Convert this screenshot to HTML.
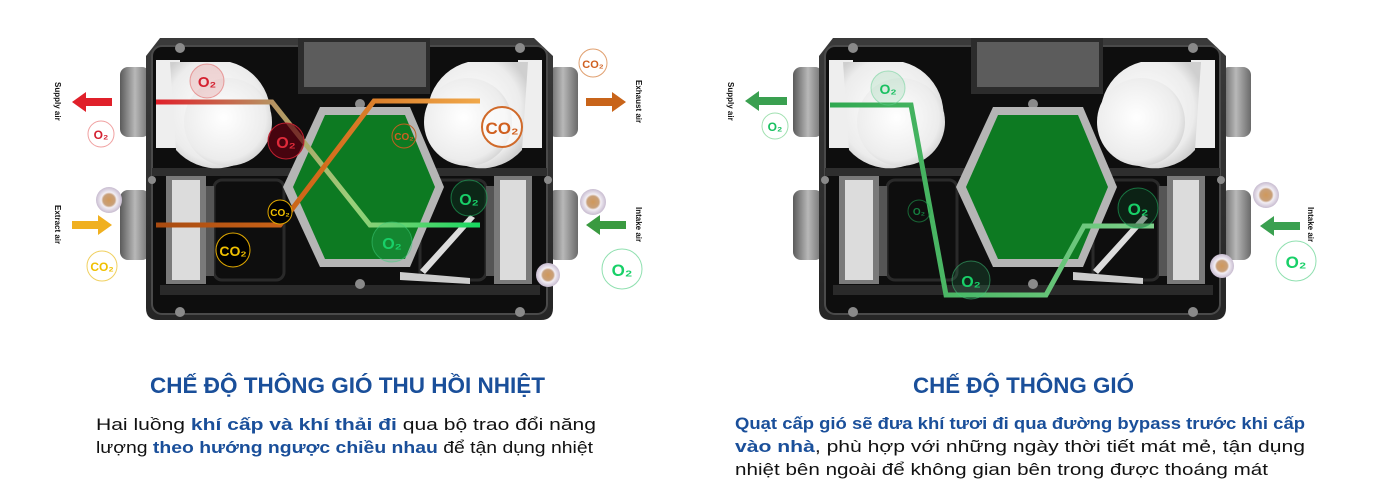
<!DOCTYPE html>
<html><head><meta charset="utf-8">
<style>
html,body{margin:0;padding:0;background:#fff;}
svg{display:block;}
text{font-family:"Liberation Sans",sans-serif;}
</style></head>
<body>
<svg width="1377" height="500" viewBox="0 0 1377 500" xmlns="http://www.w3.org/2000/svg">
<defs>
 <linearGradient id="body" x1="0" y1="0" x2="0" y2="1">
  <stop offset="0" stop-color="#3a3a3a"/><stop offset="1" stop-color="#262626"/>
 </linearGradient>
 <linearGradient id="port" x1="0" y1="0" x2="1" y2="0">
  <stop offset="0" stop-color="#5a5a5a"/><stop offset=".5" stop-color="#b8b8b8"/><stop offset="1" stop-color="#6a6a6a"/>
 </linearGradient>
 <radialGradient id="fan" cx=".45" cy=".45" r=".6">
  <stop offset="0" stop-color="#ffffff"/><stop offset=".8" stop-color="#ececec"/><stop offset="1" stop-color="#cfcfcf"/>
 </radialGradient>
 <linearGradient id="gSupply" gradientUnits="userSpaceOnUse" x1="156" y1="0" x2="480" y2="0">
  <stop offset="0" stop-color="#e0202a"/><stop offset=".35" stop-color="#b89060"/><stop offset=".6" stop-color="#9ccf7a"/><stop offset="1" stop-color="#16d860"/>
 </linearGradient>
 <linearGradient id="gExh" gradientUnits="userSpaceOnUse" x1="156" y1="0" x2="480" y2="0">
  <stop offset="0" stop-color="#a84a10"/><stop offset=".5" stop-color="#d26a1a"/><stop offset="1" stop-color="#f0a84a"/>
 </linearGradient>
 <linearGradient id="gGreen" gradientUnits="userSpaceOnUse" x1="830" y1="0" x2="1154" y2="0">
  <stop offset="0" stop-color="#2fa850"/><stop offset="1" stop-color="#7ed08a"/>
 </linearGradient>
 <radialGradient id="bub" cx=".5" cy=".5" r=".5">
  <stop offset=".55" stop-color="#fff" stop-opacity=".9"/><stop offset="1" stop-color="#fff" stop-opacity=".3"/>
 </radialGradient>
 <radialGradient id="dust" cx=".5" cy=".5" r=".5">
  <stop offset="0" stop-color="#d0985a"/><stop offset=".45" stop-color="#c8a07a"/><stop offset=".6" stop-color="#f2eef4"/><stop offset="1" stop-color="#c8bcd0"/>
 </radialGradient>

 <g id="dev">
  <rect x="120" y="67" width="30" height="70" rx="8" fill="url(#port)"/>
  <rect x="120" y="190" width="30" height="70" rx="8" fill="url(#port)"/>
  <rect x="548" y="67" width="30" height="70" rx="8" fill="url(#port)"/>
  <rect x="548" y="190" width="30" height="70" rx="8" fill="url(#port)"/>
  <path d="M160 38 L534 38 L553 56 L553 308 Q553 320 541 320 L158 320 Q146 320 146 308 L146 56 Z" fill="url(#body)"/>
  <rect x="152" y="46" width="395" height="268" rx="10" fill="#0e0e0e" stroke="#4a4a4a" stroke-width="2"/>
  <rect x="152" y="168" width="140" height="8" fill="#2e2e2e"/>
  <rect x="410" y="168" width="137" height="8" fill="#2e2e2e"/>
  <rect x="160" y="285" width="380" height="10" fill="#2a2a2a"/>
  <rect x="214" y="180" width="70" height="100" rx="8" fill="none" stroke="#2a2a2a" stroke-width="3"/>
  <rect x="420" y="180" width="66" height="100" rx="8" fill="none" stroke="#2a2a2a" stroke-width="3"/>
  <rect x="298" y="38" width="132" height="56" fill="#2c2c2c"/>
  <rect x="304" y="42" width="122" height="45" fill="#5c5c5c"/>
  <rect x="156" y="60" width="24" height="88" fill="#eee"/>
  <path d="M170 62 L230 62 A54 54 0 1 1 176 150 Z" fill="url(#fan)"/>
  <circle cx="228" cy="122" r="44" fill="url(#fan)"/>
  <rect x="518" y="60" width="24" height="88" fill="#eee"/>
  <path d="M528 62 L468 62 A54 54 0 1 0 522 150 Z" fill="url(#fan)"/>
  <circle cx="468" cy="122" r="44" fill="url(#fan)"/>
  <rect x="166" y="176" width="40" height="108" fill="#7a7a7a"/>
  <rect x="172" y="180" width="28" height="100" fill="#dcdcdc"/>
  <rect x="206" y="186" width="8" height="90" fill="#555"/>
  <rect x="494" y="176" width="38" height="108" fill="#7a7a7a"/>
  <rect x="500" y="180" width="26" height="100" fill="#dcdcdc"/>
  <rect x="486" y="186" width="8" height="90" fill="#555"/>
  <g fill="#8a8a8a">
   <circle cx="180" cy="48" r="5"/><circle cx="520" cy="48" r="5"/><circle cx="180" cy="312" r="5"/><circle cx="520" cy="312" r="5"/>
   <circle cx="360" cy="104" r="5"/><circle cx="360" cy="284" r="5"/><circle cx="152" cy="180" r="4"/><circle cx="548" cy="180" r="4"/>
  </g>
  <polygon points="283,187 320,107 410,107 444,187 410,267 320,267" fill="#b5b5b5"/>
  <polygon points="293,187 325,115 405,115 435,187 405,259 325,259" fill="#0d7a22"/>
  <path d="M420 270 L470 215 L475 218 L425 274 Z" fill="#ddd"/>
  <path d="M400 272 L470 278 L470 284 L400 280 Z" fill="#ccc"/>
 </g>
</defs>

<use href="#dev"/>
<polyline points="156,102 272,102 370,225 480,225" fill="none" stroke="url(#gSupply)" stroke-width="5"/>
<polyline points="156,225 280,225 374,101 480,101" fill="none" stroke="url(#gExh)" stroke-width="5"/>

<polygon points="72,102 86,92 86,98 112,98 112,106 86,106 86,112" fill="#e0202a"/>
<polygon points="626,102 612,92 612,98 586,98 586,106 612,106 612,112" fill="#c8641a"/>
<polygon points="112,225 98,215 98,221 72,221 72,229 98,229 98,235" fill="#f0b020"/>
<polygon points="586,225 600,215 600,221 626,221 626,229 600,229 600,235" fill="#3a9a40"/>

<g font-size="8" font-weight="bold" fill="#111">
 <text transform="translate(55,82) rotate(90)">Supply air</text>
 <text transform="translate(55,205) rotate(90)">Extract air</text>
 <text transform="translate(636,80) rotate(90)">Exhaust air</text>
 <text transform="translate(636,207) rotate(90)">Intake air</text>
</g>

<g font-weight="bold" text-anchor="middle">
 <circle cx="207" cy="81" r="17" fill="#e03030" fill-opacity=".15" stroke="#e05050" stroke-opacity=".5"/>
 <text x="207" y="87" font-size="15" fill="#d42030">O₂</text>
 <circle cx="101" cy="134" r="13" fill="url(#bub)" stroke="#f0a0a0"/>
 <text x="101" y="139" font-size="12" fill="#d42030">O₂</text>
 <circle cx="286" cy="141" r="18" fill="#600010" fill-opacity=".7" stroke="#c02030"/>
 <text x="286" y="148" font-size="16" fill="#e02a3a">O₂</text>
 <circle cx="593" cy="63" r="14" fill="url(#bub)" stroke="#e0a070"/>
 <text x="593" y="68" font-size="11" fill="#d06020">CO₂</text>
 <circle cx="502" cy="127" r="20" fill="#fff" fill-opacity=".6" stroke="#d06a2a" stroke-width="2"/>
 <text x="502" y="134" font-size="17" fill="#d06020">CO₂</text>
 <circle cx="404" cy="136" r="12" fill="none" stroke="#c06020"/>
 <text x="404" y="140" font-size="10" fill="#d06020">CO₂</text>
 <circle cx="469" cy="198" r="18" fill="#0a4020" fill-opacity=".5" stroke="#20b060" stroke-opacity=".6"/>
 <text x="469" y="205" font-size="16" fill="#18d068">O₂</text>
 <circle cx="392" cy="242" r="20" fill="#30c070" fill-opacity=".2" stroke="#40d080" stroke-opacity=".5"/>
 <text x="392" y="249" font-size="16" fill="#18d068">O₂</text>
 <circle cx="280" cy="212" r="12" fill="#000" stroke="#e0a800"/>
 <text x="280" y="216" font-size="10" fill="#f0c000">CO₂</text>
 <circle cx="233" cy="250" r="17" fill="#000" stroke="#e0a800"/>
 <text x="233" y="256" font-size="14" fill="#f0c000">CO₂</text>
 <circle cx="102" cy="266" r="15" fill="url(#bub)" stroke="#f0d060"/>
 <text x="102" y="271" font-size="12" fill="#f0c000">CO₂</text>
 <circle cx="622" cy="269" r="20" fill="url(#bub)" stroke="#90e0b0"/>
 <text x="622" y="276" font-size="17" fill="#18d068">O₂</text>
 <circle cx="109" cy="200" r="13" fill="url(#dust)"/>
 <circle cx="593" cy="202" r="13" fill="url(#dust)"/>
 <circle cx="548" cy="275" r="12" fill="url(#dust)"/>
</g>

<use href="#dev" transform="translate(673,0)"/>
<polyline points="830,105 911,105 946,295 1046,295 1084,226 1154,226" fill="none" stroke="url(#gGreen)" stroke-width="5"/>
<polygon points="745,101 759,91 759,97 787,97 787,105 759,105 759,111" fill="#3aa050"/>
<polygon points="1260,226 1274,216 1274,222 1300,222 1300,230 1274,230 1274,236" fill="#3aa050"/>
<g font-size="8" font-weight="bold" fill="#111">
 <text transform="translate(728,82) rotate(90)">Supply air</text>
 <text transform="translate(1308,207) rotate(90)">Intake air</text>
</g>
<g font-weight="bold" text-anchor="middle">
 <circle cx="888" cy="88" r="17" fill="#40c070" fill-opacity=".15" stroke="#60d090" stroke-opacity=".5"/>
 <text x="888" y="94" font-size="14" fill="#18c060">O₂</text>
 <circle cx="775" cy="126" r="13" fill="url(#bub)" stroke="#a0e0b0"/>
 <text x="775" y="131" font-size="12" fill="#18c060">O₂</text>
 <circle cx="919" cy="211" r="11" fill="none" stroke="#20a050" stroke-opacity=".6"/>
 <text x="919" y="215" font-size="10" fill="#158040">O₂</text>
 <circle cx="1138" cy="208" r="20" fill="#0a4020" fill-opacity=".4" stroke="#20b060" stroke-opacity=".6"/>
 <text x="1138" y="215" font-size="17" fill="#18d068">O₂</text>
 <circle cx="971" cy="280" r="19" fill="#30c070" fill-opacity=".15" stroke="#40d080" stroke-opacity=".5"/>
 <text x="971" y="287" font-size="16" fill="#18d068">O₂</text>
 <circle cx="1296" cy="261" r="20" fill="url(#bub)" stroke="#90e0b0"/>
 <text x="1296" y="268" font-size="17" fill="#18d068">O₂</text>
 <circle cx="1266" cy="195" r="13" fill="url(#dust)"/>
 <circle cx="1222" cy="266" r="12" fill="url(#dust)"/>
</g>

<g fill="#1a4f9a" font-weight="bold" font-size="22">
 <text x="150" y="393" textLength="395" lengthAdjust="spacingAndGlyphs">CHẾ ĐỘ THÔNG GIÓ THU HỒI NHIỆT</text>
 <text x="913" y="393" textLength="221" lengthAdjust="spacingAndGlyphs">CHẾ ĐỘ THÔNG GIÓ</text>
</g>
<g font-size="17" fill="#111">
 <text x="96" y="430" textLength="500" lengthAdjust="spacingAndGlyphs">Hai luồng <tspan fill="#1a4f9a" font-weight="bold">khí cấp và khí thải đi</tspan> qua bộ trao đổi năng</text>
 <text x="96" y="453" textLength="497" lengthAdjust="spacingAndGlyphs">lượng <tspan fill="#1a4f9a" font-weight="bold">theo hướng ngược chiều nhau</tspan> để tận dụng nhiệt</text>
 <text x="735" y="429" textLength="570" lengthAdjust="spacingAndGlyphs" fill="#1a4f9a" font-weight="bold">Quạt cấp gió sẽ đưa khí tươi đi qua đường bypass trước khi cấp</text>
 <text x="735" y="452" textLength="570" lengthAdjust="spacingAndGlyphs"><tspan fill="#1a4f9a" font-weight="bold">vào nhà</tspan>, phù hợp với những ngày thời tiết mát mẻ, tận dụng</text>
 <text x="735" y="475" textLength="533" lengthAdjust="spacingAndGlyphs">nhiệt bên ngoài để không gian bên trong được thoáng mát</text>
</g>
</svg>
</body></html>
